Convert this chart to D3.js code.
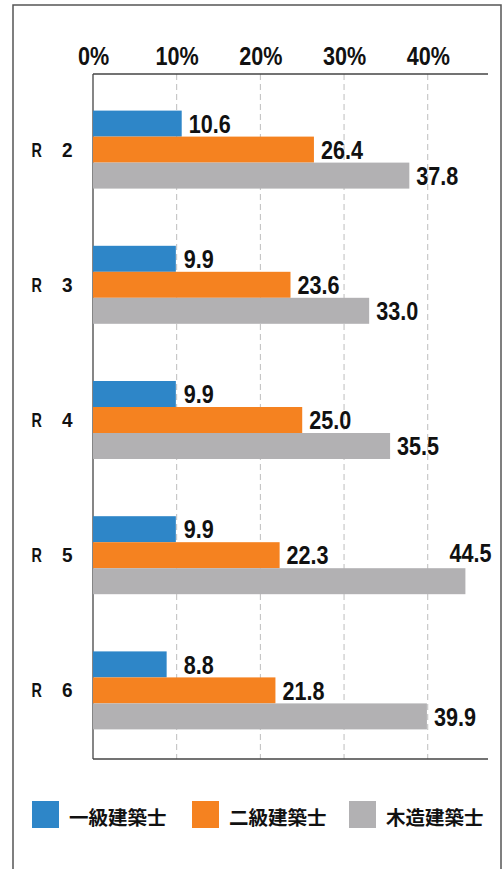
<!DOCTYPE html>
<html>
<head>
  <meta charset="UTF-8">
  <script src="https://d3js.org/d3.v7.min.js"></script>
  <style>
    body { margin: 0; background: #fff; }
    .num { font-family: "Liberation Sans", Arial, sans-serif; font-weight: bold; fill: #111; }
    .jp { font-family: "Noto Sans CJK JP", sans-serif; font-weight: bold; fill: #111; }
  </style>
</head>
<body>
  <script>
    // data
    var categories = ["R\u30002", "R\u30003", "R\u30004", "R\u30005", "R\u30006"];
    var seriesNames = ["一級建築士", "二級建築士", "木造建築士"];
    var ikkyu = [10.6, 9.9, 9.9, 9.9, 8.8];
    var nikyu = [26.4, 23.6, 25.0, 22.3, 21.8];
    var mokuzo = [37.8, 33.0, 35.5, 44.5, 39.9];
    var tickValues = [0, 10, 20, 30, 40];
    var colors = ["#2e86c8", "#f58220", "#b2b1b3"];

    var width = 504;
    var height = 869;
    var squeeze = 0.83; // the original uses a condensed face
    var svg = d3.select("body")
      .append("svg")
      .attr("width", width)
      .attr("height", height);

    // outer frame (bottom edge runs off the picture)
    svg.append("rect")
      .attr("x", 13).attr("y", 5)
      .attr("width", 488).attr("height", 900)
      .attr("fill", "none")
      .attr("stroke", "#555")
      .attr("stroke-width", 1.5);

    var plotTop = 74, plotBottom = 759;
    var x = d3.scaleLinear().domain([0, 47.2]).range([93, 488]);
    var y = d3.scaleBand().domain(categories).range([82, 758]);
    var inner = d3.scaleBand().domain(seriesNames).range([-39, 39]);

    var rows = categories.map(function(c, i) {
      return { cat: c, values: [ikkyu[i], nikyu[i], mokuzo[i]] };
    });

    // dashed grid lines
    svg.append("g").selectAll("line")
      .data(tickValues.filter(function(d) { return d > 0; }))
      .enter().append("line")
      .attr("x1", function(d) { return x(d); })
      .attr("x2", function(d) { return x(d); })
      .attr("y1", plotTop).attr("y2", plotBottom)
      .attr("stroke", "#bdbdbd")
      .attr("stroke-dasharray", "6,4");

    // top axis with percent labels
    var axis = svg.append("g")
      .attr("transform", "translate(0," + plotTop + ")")
      .call(d3.axisTop(x).tickValues(tickValues).tickSize(0).tickPadding(9)
        .tickFormat(function(d) { return d + "%"; }));
    axis.select(".domain").remove();
    axis.selectAll("text")
      .attr("class", "num")
      .attr("font-size", 26)
      .attr("fill", "#111")
      .attr("transform", "scale(" + squeeze + ",1)");

    // plot border: top, left, bottom
    var border = svg.append("g")
      .attr("stroke", "#444")
      .attr("stroke-width", 1.3);
    border.append("line")
      .attr("x1", x(0)).attr("x2", x.range()[1])
      .attr("y1", plotTop).attr("y2", plotTop);
    border.append("line")
      .attr("x1", x(0)).attr("x2", x.range()[1])
      .attr("y1", plotBottom).attr("y2", plotBottom);

    // bars
    var groups = svg.append("g").selectAll("g")
      .data(rows)
      .enter().append("g")
      .attr("transform", function(d) {
        return "translate(0," + (y(d.cat) + y.bandwidth() / 2) + ")";
      });

    groups.selectAll("rect")
      .data(function(d) { return d.values; })
      .enter().append("rect")
      .attr("x", x(0))
      .attr("y", function(d, i) { return inner(seriesNames[i]); })
      .attr("width", function(d) { return x(d) - x(0); })
      .attr("height", inner.bandwidth())
      .attr("fill", function(d, i) { return colors[i]; });

    border.append("line")
      .attr("x1", x(0)).attr("x2", x(0))
      .attr("y1", plotTop).attr("y2", plotBottom);

    // value labels (short bars share the 10% starting column)
    groups.selectAll("text.val")
      .data(function(d) { return d.values; })
      .enter().append("text")
      .attr("class", "num val")
      .attr("font-size", 26)
      .attr("dy", "0.35em")
      .text(function(d) { return d3.format(".1f")(d); })
      .each(function(d, i) {
        var t = d3.select(this);
        var lx = Math.max(x(d), x(10)) + 7;
        var ly = inner(seriesNames[i]) + inner.bandwidth() / 2;
        // labels that would run past the plot go above the bar
        if (lx + this.getComputedTextLength() * squeeze > x.range()[1]) {
          t.attr("text-anchor", "end");
          lx = x(d) + 26;
          ly = ly - 28;
        }
        t.attr("transform", "translate(" + lx + "," + ly + ") scale(" + squeeze + ",1)");
      });

    // category labels: "R" on the left, the number on the right
    var cats = svg.append("g").selectAll("g")
      .data(categories)
      .enter().append("g")
      .attr("transform", function(d) {
        return "translate(0," + (y(d) + y.bandwidth() / 2) + ")";
      });
    cats.append("text")
      .attr("class", "num")
      .attr("font-size", 20)
      .attr("dy", "0.35em")
      .attr("transform", "translate(31.5,0) scale(0.72,1)")
      .text(function(d) { return d.split("\u3000")[0]; });
    cats.append("text")
      .attr("class", "num")
      .attr("font-size", 20)
      .attr("dy", "0.35em")
      .attr("text-anchor", "end")
      .attr("transform", "translate(72.5,0) scale(0.95,1)")
      .text(function(d) { return d.split("\u3000")[1]; });

    // legend
    var legendX = [32, 192, 349];
    var legend = svg.append("g").selectAll("g")
      .data(seriesNames)
      .enter().append("g")
      .attr("transform", function(d, i) { return "translate(" + legendX[i] + ",801)"; });
    legend.append("rect")
      .attr("width", 27).attr("height", 27)
      .attr("fill", function(d, i) { return colors[i]; });
    legend.append("text")
      .attr("class", "jp")
      .attr("font-size", 19.5)
      .attr("x", 37)
      .attr("y", 23.5)
      .text(function(d) { return d; });
  </script>
</body>
</html>
